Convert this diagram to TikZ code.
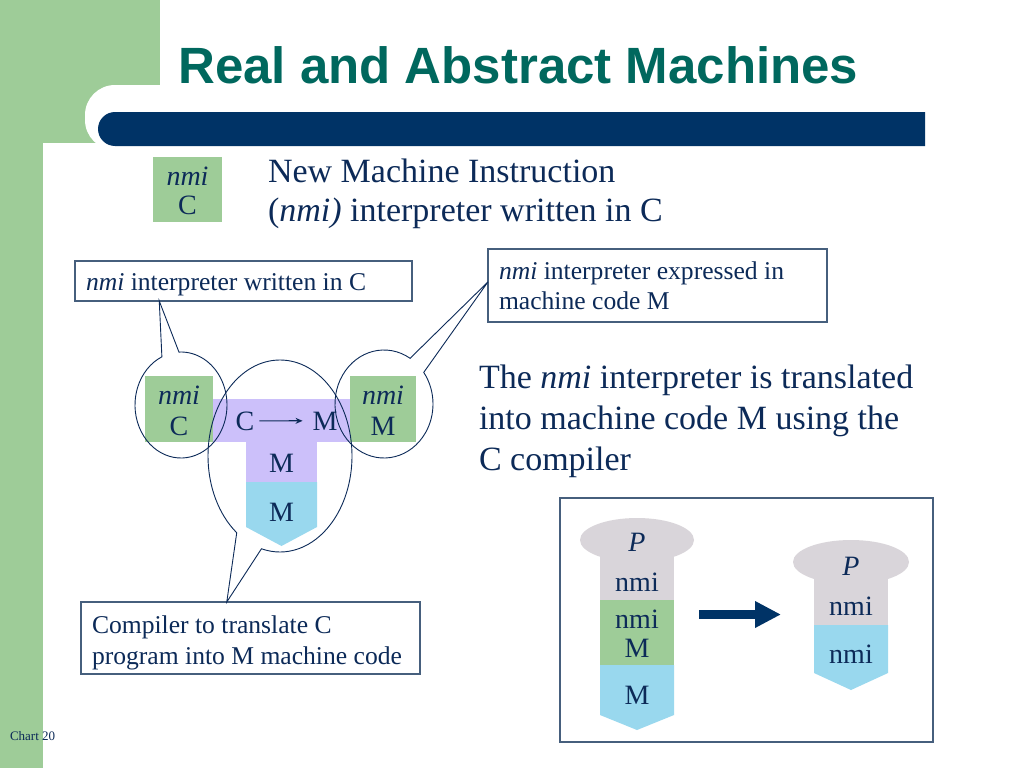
\documentclass[tikz,border=0pt]{standalone}
\usepackage{fontspec}
\setmainfont{Liberation Serif}
\newfontfamily\titlesans{Liberation Sans}
\usetikzlibrary{shapes.callouts,calc,arrows.meta}
\definecolor{navy}{RGB}{12,42,88}
\definecolor{titleteal}{RGB}{0,104,94}
\definecolor{barblue}{RGB}{0,51,102}
\definecolor{grn}{RGB}{158,204,152}
\definecolor{lav}{RGB}{204,192,250}
\definecolor{lblue}{RGB}{153,216,238}
\definecolor{gry}{RGB}{217,213,218}
\definecolor{boxline}{RGB}{70,95,125}
\newcommand\sztitle{\titlesans\bfseries\fontsize{51}{51}\selectfont}
\newcommand\szbig{\fontsize{34}{34}\selectfont}
\newcommand\szcall{\fontsize{25.6}{26}\selectfont}
\newcommand\szlab{\fontsize{28}{28}\selectfont}
\newcommand\szfoot{\fontsize{13}{13}\selectfont}
\begin{document}
\begin{tikzpicture}[x=1pt,y=-1pt,
  txt/.style={inner sep=0pt, outer sep=0pt, text=navy},
  lb/.style={txt, anchor=base west},
  lc/.style={txt, anchor=base, font=\szlab},
  calbox/.style={draw=boxline, line width=1.1pt, inner sep=0pt, outer sep=0pt, anchor=north west},
  bubble/.style={ellipse callout, draw=navy, line width=0.9pt, inner sep=0pt, outer sep=0pt, callout pointer arc=22},
]
% background
\fill[white] (0,0) rectangle (1024,768);
\useasboundingbox (0,0) rectangle (1024,768);
\fill[grn] (0,0) rectangle (160,143);
\fill[grn] (0,143) rectangle (43,768);
\fill[white, rounded corners=30pt] (85,85) rectangle (1000,150);
\fill[barblue] (925,112) -- (115,112) arc[start angle=270, end angle=90, radius=17] -- (925,146) -- cycle;

% title
\node[anchor=base west, inner sep=0pt, text=titleteal, font=\sztitle] (title) at (178,83) {Real and Abstract Machines};

% small legend box
\fill[grn] (153,157) rectangle (222,222);
\node[lc] (legnmi) at (187.5,185) {\textit{nmi}};
\node[lc] (legc) at (187.5,214) {C};
\node[lb, font=\szbig] (new1) at (268,182) {New Machine Instruction};
\node[lb, font=\szbig] (new2) at (268,221) {(\textit{nmi)} interpreter written in C};

% T diagram
\fill[grn] (145,376) rectangle (213,442);
\fill[lav] (213,399) rectangle (350,442);
\fill[grn] (350,376) rectangle (416,442);
\fill[lav] (246,442) rectangle (317,482);
\fill[lblue] (246,482) -- (317,482) -- (317,527) -- (281.5,546) -- (246,527) -- cycle;
\node[lc] (lnmi) at (179,404) {\textit{nmi}};
\node[lc] (lc) at (179,435) {C};
\node[lc] (rnmi) at (383,404) {\textit{nmi}};
\node[lc] (rm) at (383,435) {M};
\node[lc] (cc) at (245,430) {C};
\node[lc] (cm) at (325,430) {M};
\draw[navy, line width=1.2pt, -{Stealth[length=7pt,width=6pt]}] ([xshift=5pt]cc.east) -- ([xshift=-10pt]cm.west);
\node[lc] (sm) at (281.5,472) {M};
\node[lc] (bm) at (281.5,521) {M};

% callout boxes
\node[calbox, minimum width=337pt, minimum height=40pt] (b1) at (75,261) {};
\node[lb, font=\szcall] (t1) at (86,290) {\textit{nmi} interpreter written in C};
\node[calbox, minimum width=339pt, minimum height=73pt] (b2) at (488,249) {};
\node[lb, font=\szcall] (t2a) at (499,279) {\textit{nmi} interpreter expressed in};
\node[lb, font=\szcall] (t2b) at (499,309) {machine code M};
\node[calbox, minimum width=339pt, minimum height=72pt] (b3) at (81,602) {};
\node[lb, font=\szcall] (t3a) at (92,633) {Compiler to translate C};
\node[lb, font=\szcall] (t3b) at (92,664) {program into M machine code};

\coordinate (tip1) at ($(b1.south west)!0.25!(b1.south east)$);
\coordinate (tip2) at ($(b2.north west)!0.45!(b2.south west)$);
\coordinate (tip3) at ($(b3.north west)!0.43!(b3.north east)$);

\node[bubble, minimum width=92pt, minimum height=106pt, callout absolute pointer=(tip1)] (e1) at (181,405) {};
\node[bubble, minimum width=98pt, minimum height=108pt, callout absolute pointer=(tip2)] (e2) at (384,404) {};
\node[bubble, minimum width=144pt, minimum height=192pt, callout absolute pointer=(tip3)] (e3) at (280,456) {};

% right paragraph
\node[lb, font=\szbig] (p1) at (479,388) {The \textit{nmi} interpreter is translated};
\node[lb, font=\szbig] (p2) at (479,429) {into machine code M using the};
\node[lb, font=\szbig] (p3) at (479,470) {C compiler};

% bottom right frame
\node[calbox, minimum width=373pt, minimum height=244pt] (frame) at (560,498) {};
% left stack
\fill[gry] (637,540) ellipse [x radius=57, y radius=22];
\fill[gry] (600,540) rectangle (674,600);
\fill[grn] (600,600) rectangle (674,665);
\fill[lblue] (600,665) -- (674,665) -- (674,715) -- (637,730) -- (600,715) -- cycle;
\node[lc] (lp) at (637,551) {\textit{P}};
\node[lc] (lsn) at (637,591) {nmi};
\node[lc] (lgn) at (637,628) {nmi};
\node[lc] (lgm) at (637,657) {M};
\node[lc] (lbm) at (637,704) {M};
% right stack
\fill[gry] (851,562) ellipse [x radius=58, y radius=22];
\fill[gry] (814,562) rectangle (888,625);
\fill[lblue] (814,625) -- (888,625) -- (888,673) -- (851,690) -- (814,673) -- cycle;
\node[lc] (rp) at (851,575) {\textit{P}};
\node[lc] (rsn) at (851,615) {nmi};
\node[lc] (rbn) at (851,663) {nmi};
% transform arrow
\coordinate (arrS) at (699,614.5);
\coordinate (arrE) at (781,614.5);
\draw[barblue, line width=9pt, -{Triangle[length=26pt,width=25pt]}] (arrS) -- (arrE);

% footer
\node[lb, font=\szfoot] (foot) at (10,740) {Chart 20};
\end{tikzpicture}
\end{document}
